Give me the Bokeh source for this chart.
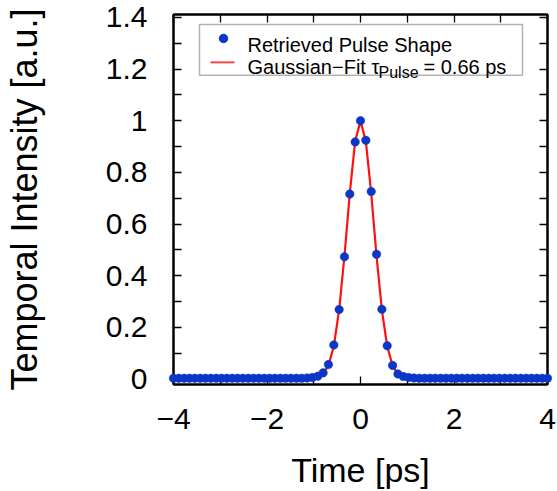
from bokeh.plotting import figure
from bokeh.models import (Range1d, LinearAxis, FixedTicker, CustomJSTickFormatter,
                          BoxAnnotation, Label, ColumnDataSource)
from bokeh.embed import file_html
from bokeh.resources import INLINE

# ---------------- data ----------------
time_ps = [-4.000, -3.886, -3.771, -3.657, -3.543, -3.429, -3.314, -3.200, -3.086, -2.971,
           -2.857, -2.743, -2.629, -2.514, -2.400, -2.286, -2.171, -2.057, -1.943, -1.829,
           -1.714, -1.600, -1.486, -1.371, -1.257, -1.143, -1.029, -0.914, -0.800, -0.686,
           -0.571, -0.457, -0.343, -0.229, -0.114, 0.000, 0.114, 0.229, 0.343, 0.457,
           0.571, 0.686, 0.800, 0.914, 1.029, 1.143, 1.257, 1.371, 1.486, 1.600,
           1.714, 1.829, 1.943, 2.057, 2.171, 2.286, 2.400, 2.514, 2.629, 2.743,
           2.857, 2.971, 3.086, 3.200, 3.314, 3.429, 3.543, 3.657, 3.771, 3.886, 4.000]

retrieved_intensity = [0.003, 0.003, 0.003, 0.003, 0.003, 0.003, 0.003, 0.003, 0.003, 0.003,
                       0.003, 0.003, 0.003, 0.003, 0.003, 0.003, 0.003, 0.003, 0.003, 0.003,
                       0.003, 0.003, 0.003, 0.003, 0.003, 0.004, 0.006, 0.011, 0.024, 0.056,
                       0.132, 0.269, 0.473, 0.716, 0.918, 1.000, 0.924, 0.726, 0.483, 0.270,
                       0.129, 0.053, 0.020, 0.010, 0.006, 0.004, 0.003, 0.003, 0.003, 0.003,
                       0.003, 0.003, 0.003, 0.003, 0.003, 0.003, 0.003, 0.003, 0.003, 0.003,
                       0.003, 0.003, 0.003, 0.003, 0.003, 0.003, 0.003, 0.003, 0.003, 0.003, 0.003]

fit_intensity = [0.002, 0.002, 0.002, 0.002, 0.002, 0.002, 0.002, 0.002, 0.002, 0.002,
                 0.002, 0.002, 0.002, 0.002, 0.002, 0.002, 0.002, 0.002, 0.002, 0.002,
                 0.002, 0.002, 0.002, 0.002, 0.002, 0.002, 0.003, 0.008, 0.020, 0.052,
                 0.127, 0.268, 0.476, 0.720, 0.921, 0.999, 0.921, 0.720, 0.476, 0.268,
                 0.127, 0.052, 0.018, 0.006, 0.003, 0.002, 0.002, 0.002, 0.002, 0.002,
                 0.002, 0.002, 0.002, 0.002, 0.002, 0.002, 0.002, 0.002, 0.002, 0.002,
                 0.002, 0.002, 0.002, 0.002, 0.002, 0.002, 0.002, 0.002, 0.002, 0.002, 0.002]

x_major_ticks = [-4, -2, 0, 2, 4]
x_minor_ticks = [-3, -1, 1, 3]
y_major_ticks = [0.0, 0.2, 0.4, 0.6, 0.8, 1.0, 1.2, 1.4]
y_minor_ticks = [0.1, 0.3, 0.5, 0.7, 0.9, 1.1, 1.3]

legend_points_label = "Retrieved Pulse Shape"
legend_fit_label = "Gaussian\u2212Fit \u03c4"
legend_fit_sub = "Pulse"
legend_fit_tail = "= 0.66 ps"
x_label = "Time [ps]"
y_label = "Temporal Intensity [a.u.]"

X0, X1 = -4.0, 4.0
Y0, Y1 = -0.021, 1.411

BLUE = "#0a37c6"
RED = "#ff1010"
FONT = "Liberation Sans"

# frame geometry (page pixels) used to place the hand-made legend
FL, FR, FT, FB = 173.0, 547.0, 14.0, 385.0


def fx(px):
    return X0 + (px - FL) / (FR - FL) * (X1 - X0)


def fy(py):
    return Y1 - (py - FT) / (FB - FT) * (Y1 - Y0)


p = figure(width=557, height=491, x_range=Range1d(X0, X1), y_range=Range1d(Y0, Y1),
           output_backend="svg", toolbar_location=None,
           min_border_left=173, min_border_right=10, min_border_top=14, min_border_bottom=106)
p.xgrid.visible = False
p.ygrid.visible = False
p.outline_line_color = "black"
p.outline_line_width = 2
p.outline_line_alpha = 1
p.background_fill_color = "white"
p.border_fill_color = "white"

src = ColumnDataSource(dict(t=time_ps, a=retrieved_intensity, f=fit_intensity))
p.line("t", "f", source=src, line_color=RED, line_width=2.2)
dots = p.scatter("t", "a", source=src, size=8.5, marker="circle",
                 fill_color=BLUE, line_color=BLUE, line_width=0.5)
dots.level = "overlay"

xt = FixedTicker(ticks=x_major_ticks, minor_ticks=x_minor_ticks)
yt = FixedTicker(ticks=y_major_ticks, minor_ticks=y_minor_ticks)

xfmt = CustomJSTickFormatter(code="var v = Math.round(tick*100)/100; return v < 0 ? '\u2212' + Math.abs(v) : String(v);")
yfmt = CustomJSTickFormatter(code="return String(parseFloat(tick.toFixed(2)));")
blank = CustomJSTickFormatter(code="return '';")


def style(ax):
    ax.axis_line_color = "black"
    ax.axis_line_width = 2
    ax.major_tick_in = 8
    ax.major_tick_out = 0
    ax.minor_tick_in = 8
    ax.minor_tick_out = 0
    ax.major_tick_line_color = "black"
    ax.minor_tick_line_color = "black"
    ax.major_tick_line_width = 1.3
    ax.minor_tick_line_width = 1.3
    ax.major_label_text_font = FONT
    ax.major_label_text_color = "black"
    ax.axis_label_text_font = FONT
    ax.axis_label_text_font_style = "normal"
    ax.axis_label_text_color = "black"


xa = p.xaxis[0]
xa.ticker = xt
xa.formatter = xfmt
style(xa)
xa.major_label_text_font_size = "30px"
xa.major_label_standoff = 24
xa.axis_label = x_label
xa.axis_label_text_font_size = "34px"
xa.axis_label_standoff = 19

ya = p.yaxis[0]
ya.ticker = yt
ya.formatter = yfmt
style(ya)
ya.major_label_text_font_size = "30px"
ya.major_label_standoff = 26
ya.axis_label = y_label
ya.axis_label_text_font_size = "36px"
ya.axis_label_standoff = 58

top = LinearAxis(ticker=xt, formatter=blank)
style(top)
top.major_label_standoff = 0
top.major_label_text_font_size = "1px"
p.add_layout(top, "above")

right = LinearAxis(ticker=yt, formatter=blank)
style(right)
right.major_label_standoff = 0
right.major_label_text_font_size = "1px"
p.add_layout(right, "right")

# ---------- hand-made legend (needed for the subscript) ----------
box = BoxAnnotation(left=fx(199), right=fx(522), top=fy(24), bottom=fy(75),
                    fill_color="white", fill_alpha=1.0, line_color="black", line_width=1.5)
p.add_layout(box)

sw_dot = p.scatter([fx(223)], [fy(38)], size=8.5, marker="circle",
                   fill_color=BLUE, line_color=BLUE)
sw_dot.level = "overlay"
sw_line = p.line([fx(210), fx(234)], [fy(62), fy(62)], line_color="#ff4040", line_width=2)
sw_line.level = "overlay"

p.add_layout(Label(x=fx(247), y=fy(45), text=legend_points_label, text_font=FONT,
                   text_font_size="20px", text_baseline="alphabetic", text_align="left",
                   text_color="black"))
p.add_layout(Label(x=fx(247), y=fy(67), text=legend_fit_label, text_font=FONT,
                   text_font_size="20px", text_baseline="alphabetic", text_align="left",
                   text_color="black"))
p.add_layout(Label(x=fx(378), y=fy(72), text=legend_fit_sub, text_font=FONT,
                   text_font_size="16px", text_baseline="alphabetic", text_align="left",
                   text_color="black"))
p.add_layout(Label(x=fx(423), y=fy(67), text=legend_fit_tail, text_font=FONT,
                   text_font_size="20px", text_baseline="alphabetic", text_align="left",
                   text_color="black"))

with open("out.html", "w", encoding="utf-8") as fh:
    fh.write(file_html(p, INLINE))
